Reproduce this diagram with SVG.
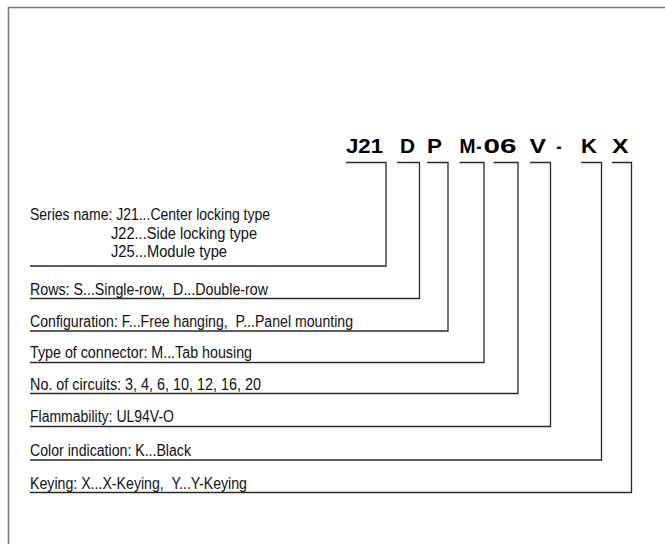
<svg xmlns="http://www.w3.org/2000/svg" width="665" height="544" viewBox="0 0 665 544">
<style>
.frame{fill:none;stroke:#7a7a7a;stroke-width:1.6}
.ln{fill:none;stroke:#2a2a2a;stroke-width:1.3}
.code{font-family:"Liberation Sans",Arial,sans-serif;font-weight:bold;font-size:19.5px;fill:#000}
.lbl{font-family:"Liberation Sans",Arial,sans-serif;font-size:16px;fill:#111;white-space:pre}
</style>
<rect width="665" height="544" fill="#fff"/>
<path class="frame" d="M8.5,544 V7.5 H665"/>
<g id="code">
<text class="code" x="346" y="153" textLength="37" lengthAdjust="spacingAndGlyphs">J21</text>
<text class="code" x="400" y="153" textLength="15" lengthAdjust="spacingAndGlyphs">D</text>
<text class="code" x="427" y="153" textLength="15" lengthAdjust="spacingAndGlyphs">P</text>
<text class="code" x="459.5" y="153" textLength="16" lengthAdjust="spacingAndGlyphs">M</text>
<text class="code" x="476.5" y="153" textLength="5" lengthAdjust="spacingAndGlyphs">-</text>
<text class="code" x="483.5" y="153" textLength="33" lengthAdjust="spacingAndGlyphs">06</text>
<text class="code" x="529.5" y="153" textLength="16.5" lengthAdjust="spacingAndGlyphs">V</text>
<text class="code" x="556.5" y="153" textLength="5" lengthAdjust="spacingAndGlyphs">-</text>
<text class="code" x="581" y="153" textLength="16" lengthAdjust="spacingAndGlyphs">K</text>
<text class="code" x="612" y="153" textLength="16.5" lengthAdjust="spacingAndGlyphs">X</text>
</g>
<g id="connectors">
<path class="ln" d="M346,162.5 H386 V266 H30"/>
<path class="ln" d="M397,162.5 H419.5 V298.5 H30"/>
<path class="ln" d="M427,162.5 H448 V331 H30"/>
<path class="ln" d="M459.5,162.5 H484 V362.5 H30"/>
<path class="ln" d="M493.5,162.5 H518 V393.5 H30"/>
<path class="ln" d="M530,162.5 H550.5 V426.5 H30"/>
<path class="ln" d="M581,162.5 H601.5 V460 H30"/>
<path class="ln" d="M612,162.5 H631.5 V492.5 H30"/>
</g>
<g id="series">
<text class="lbl" x="30" y="220" textLength="240" lengthAdjust="spacingAndGlyphs">Series name: J21...Center locking type</text>
<text class="lbl" x="111" y="238.5" textLength="146" lengthAdjust="spacingAndGlyphs">J22...Side locking type</text>
<text class="lbl" x="111" y="257" textLength="116" lengthAdjust="spacingAndGlyphs">J25...Module type</text>
</g>
<g id="rows"><text class="lbl" x="30" y="295" textLength="238" lengthAdjust="spacingAndGlyphs" xml:space="preserve">Rows: S...Single-row,  D...Double-row</text></g>
<g id="configuration"><text class="lbl" x="30" y="327" textLength="323" lengthAdjust="spacingAndGlyphs" xml:space="preserve">Configuration: F...Free hanging,  P...Panel mounting</text></g>
<g id="type"><text class="lbl" x="30" y="358" textLength="222" lengthAdjust="spacingAndGlyphs">Type of connector: M...Tab housing</text></g>
<g id="circuits"><text class="lbl" x="30" y="389.5" textLength="231" lengthAdjust="spacingAndGlyphs">No. of circuits: 3, 4, 6, 10, 12, 16, 20</text></g>
<g id="flammability"><text class="lbl" x="30" y="422" textLength="144" lengthAdjust="spacingAndGlyphs">Flammability: UL94V-O</text></g>
<g id="color"><text class="lbl" x="30" y="456" textLength="161" lengthAdjust="spacingAndGlyphs">Color indication: K...Black</text></g>
<g id="keying"><text class="lbl" x="30" y="488.5" textLength="217" lengthAdjust="spacingAndGlyphs" xml:space="preserve">Keying: X...X-Keying,  Y...Y-Keying</text></g>
</svg>
